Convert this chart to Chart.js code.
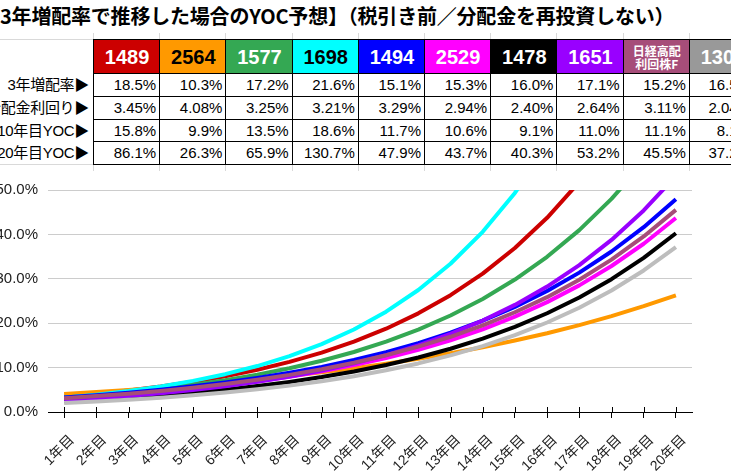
<!DOCTYPE html>
<html lang="ja">
<head>
<meta charset="utf-8">
<script src="https://cdn.jsdelivr.net/npm/chart.js@4.4.1/dist/chart.umd.min.js"></script>
<style>
  html, body { margin: 0; padding: 0; background: #fff; }
  body { width: 731px; height: 472px; overflow: hidden; position: relative;
         font-family: Arial, "Liberation Sans", "Noto Sans CJK JP", sans-serif; }
  #title { position: absolute; left: 0; top: 1px; white-space: nowrap; line-height: 22px; letter-spacing: -0.2px;
           font: bold 20px "Noto Sans CJK JP", sans-serif; color: #000; }
  .cell { position: absolute; box-sizing: border-box; border-left: 1px solid #000;
          border-top: 1px solid #000; white-space: nowrap; }
  .head { display: flex; align-items: center; justify-content: center;
          font: bold 20px Arial, "Liberation Sans", sans-serif; }
  .head.small { font: bold 12px "Noto Sans CJK JP", sans-serif; line-height: 13px; text-align: center; }
  .num { text-align: right; padding-right: 4px; font-size: 15px; line-height: 21px; color: #000; }
  .rowlab { position: absolute; white-space: nowrap; text-align: right; font-size: 15px; letter-spacing: -0.3px;
            line-height: 21px; color: #000; font-family: "Liberation Sans", "Noto Sans CJK JP", sans-serif; }
  .gl { position: absolute; background: #d9d9d9; }
  #chart { position: absolute; left: -6px; top: 171px; }
</style>
</head>
<body>
<div id="title">3年増配率で推移した場合のYOC予想】（税引き前／分配金を再投資しない）</div>
<div id="table"></div>
<canvas id="chart" width="737" height="301"></canvas>
<script>
'use strict';

// categories
let years = ['1年目', '2年目', '3年目', '4年目', '5年目', '6年目', '7年目', '8年目', '9年目', '10年目',
  '11年目', '12年目', '13年目', '14年目', '15年目', '16年目', '17年目', '18年目', '19年目', '20年目'];

// table
let codes = ['1489', '2564', '1577', '1698', '1494', '2529', '1478', '1651', '日経高配\n利回株F', '1306'];
let rowLabels = ['3年増配率▶', '分配金利回り▶', '10年目YOC▶', '20年目YOC▶'];
let growth = ['18.5%', '10.3%', '17.2%', '21.6%', '15.1%', '15.3%', '16.0%', '17.1%', '15.2%', '16.5%'];
let yields = ['3.45%', '4.08%', '3.25%', '3.21%', '3.29%', '2.94%', '2.40%', '2.64%', '3.11%', '2.04%'];
let yoc10 = ['15.8%', '9.9%', '13.5%', '18.6%', '11.7%', '10.6%', '9.1%', '11.0%', '11.1%', '8.1%'];
let yoc20 = ['86.1%', '26.3%', '65.9%', '130.7%', '47.9%', '43.7%', '40.3%', '53.2%', '45.5%', '37.2%'];

// YOC (%) per year
let yoc1489 = [3.45, 4.09, 4.84, 5.73, 6.79, 8.05, 9.53, 11.29, 13.37, 15.84, 18.76, 22.22, 26.32, 31.17, 36.93, 43.74, 51.81, 61.37, 72.69, 86.10];
let yoc2564 = [4.08, 4.50, 4.96, 5.48, 6.04, 6.66, 7.35, 8.10, 8.94, 9.86, 10.88, 12.00, 13.23, 14.59, 16.10, 17.75, 19.58, 21.60, 23.83, 26.28];
let yoc1577 = [3.25, 3.81, 4.46, 5.23, 6.12, 7.17, 8.41, 9.85, 11.54, 13.52, 15.84, 18.56, 21.74, 25.47, 29.84, 34.96, 40.96, 47.99, 56.22, 65.87];
let yoc1698 = [3.21, 3.90, 4.74, 5.76, 7.01, 8.52, 10.35, 12.58, 15.30, 18.59, 22.60, 27.47, 33.39, 40.58, 49.33, 59.96, 72.88, 88.58, 107.67, 130.7];
let yoc1494 = [3.29, 3.79, 4.36, 5.02, 5.78, 6.66, 7.67, 8.83, 10.16, 11.70, 13.47, 15.51, 17.86, 20.57, 23.68, 27.27, 31.39, 36.15, 41.62, 47.92];
let yoc2529 = [2.94, 3.39, 3.91, 4.50, 5.19, 5.98, 6.89, 7.95, 9.16, 10.55, 12.17, 14.02, 16.16, 18.63, 21.47, 24.75, 28.52, 32.88, 37.89, 43.68];
let yoc1478 = [2.40, 2.78, 3.23, 3.75, 4.35, 5.04, 5.85, 6.78, 7.87, 9.13, 10.59, 12.28, 14.25, 16.53, 19.17, 22.24, 25.80, 29.92, 34.71, 40.26];
let yoc1651 = [2.64, 3.09, 3.62, 4.24, 4.97, 5.82, 6.81, 7.98, 9.35, 10.95, 12.82, 15.02, 17.59, 20.60, 24.12, 28.25, 33.09, 38.76, 45.39, 53.16];
let yocNikkei = [3.11, 3.58, 4.13, 4.75, 5.47, 6.30, 7.26, 8.36, 9.63, 11.09, 12.77, 14.71, 16.94, 19.51, 22.47, 25.87, 29.80, 34.32, 39.53, 45.52];
let yoc1306 = [2.04, 2.38, 2.77, 3.23, 3.76, 4.38, 5.10, 5.94, 6.92, 8.06, 9.39, 10.94, 12.75, 14.85, 17.31, 20.16, 23.49, 27.36, 31.88, 37.14];

let yTicks = [0, 10, 20, 30, 40, 50];

let allSeries = [yoc1489, yoc2564, yoc1577, yoc1698, yoc1494, yoc2529, yoc1478, yoc1651, yocNikkei, yoc1306];

// styles
let headBg = ['#cc0000', '#ff9900', '#34a853', '#00ffff', '#0000ff', '#ff00ff', '#000000', '#9900ff', '#a64d79', '#999999'];
let headFg = ['#fff', '#000', '#fff', '#000', '#fff', '#fff', '#fff', '#fff', '#fff', '#fff'];
let lineColors = ['#cc0000', '#ff9900', '#34a853', '#00ffff', '#0000ff', '#ff00ff', '#000000', '#9900ff', '#a64d79', '#bdbdbd'];

// build the table
let tableEl = document.getElementById('table');
let colLeft = 93, colW = 66.2, headTop = 39, headH = 34, rowH = 22.8;

function addDiv(cls, css, text) {
  let d = document.createElement('div');
  d.className = cls;
  Object.assign(d.style, css);
  if (text !== undefined) d.textContent = text;
  tableEl.appendChild(d);
  return d;
}

// faint sheet gridlines
addDiv('gl', {left: '0px', top: headTop + 'px', width: colLeft + 'px', height: '1px'});
addDiv('gl', {left: '0px', top: (headTop + headH + rowH * 4) + 'px', width: colLeft + 'px', height: '1px'});
for (let i = 0; i <= codes.length; i++) {
  let x = Math.round(colLeft + i * colW) + 'px';
  addDiv('gl', {left: x, top: '33px', width: '1px', height: '6px'});
  addDiv('gl', {left: x, top: (headTop + headH + rowH * 4) + 'px', width: '1px', height: '7px'});
}

let rows = [growth, yields, yoc10, yoc20];
for (let i = 0; i < codes.length; i++) {
  let left = colLeft + i * colW;
  let h = addDiv('cell head' + (codes[i].includes('\n') ? ' small' : ''), {
    left: left + 'px', top: headTop + 'px', width: (colW + 1) + 'px', height: (headH + 1) + 'px',
    background: headBg[i], color: headFg[i]
  });
  h.innerHTML = codes[i].split('\n').join('<br>');
  for (let r = 0; r < rows.length; r++) {
    let top = headTop + headH + r * rowH;
    let c = addDiv('cell num', {
      left: left + 'px', top: top + 'px', width: (colW + 1) + 'px', height: (rowH + 1) + 'px'
    }, rows[r][i]);
    if (r === rows.length - 1) c.style.borderBottom = '1px solid #000';
    if (i === codes.length - 1) c.style.borderRight = '1px solid #000';
  }
}
for (let r = 0; r < rowLabels.length; r++) {
  addDiv('rowlab', {right: (731 - colLeft + 4) + 'px', top: (headTop + headH + r * rowH + 1) + 'px'}, rowLabels[r]);
}

// little tick marks poking above the x axis
const tickUp = {
  id: 'tickUp',
  afterDraw(chart) {
    let s = chart.scales.x, c = chart.ctx, b = chart.chartArea.bottom;
    c.save();
    c.strokeStyle = '#000';
    c.lineWidth = 1;
    for (let i = 0; i < s.ticks.length; i++) {
      let x = Math.round(s.getPixelForTick(i)) + 0.5;
      c.beginPath();
      c.moveTo(x, b - 5);
      c.lineTo(x, b);
      c.stroke();
    }
    c.restore();
  }
};

let fam = 'Arial, "Liberation Sans", "Noto Sans CJK JP", sans-serif';
let ctx = document.getElementById('chart').getContext('2d');
let myChart = new Chart(ctx, {
  type: 'line',
  data: {
    labels: years,
    datasets: allSeries.map((d, i) => ({
      label: codes[i].replace('\n', ''),
      data: d,
      borderColor: lineColors[i],
      backgroundColor: lineColors[i],
      borderWidth: 4,
      pointRadius: 0,
      tension: 0,
      fill: false,
      borderCapStyle: 'butt',
      borderJoinStyle: 'round',
      order: allSeries.length - i
    }))
  },
  options: {
    responsive: false,
    animation: false,
    devicePixelRatio: 1,
    layout: {padding: {top: 8, right: 39, left: 0, bottom: 0}},
    plugins: {legend: {display: false}, tooltip: {enabled: false}},
    scales: {
      x: {
        offset: true,
        grid: {display: true, drawOnChartArea: false, offset: false, tickLength: 6, color: '#000'},
        border: {display: true, color: '#000', width: 1},
        ticks: {minRotation: 45, maxRotation: 45, autoSkip: false, padding: 14, labelOffset: 8,
                color: '#222', font: {size: 14, family: fam}},
        afterFit(s) { s.height = 60; }
      },
      y: {
        min: yTicks[0],
        max: yTicks[yTicks.length - 1],
        afterBuildTicks(s) { s.ticks = yTicks.map(v => ({value: v})); },
        ticks: {padding: 10, color: '#222', font: {size: 15, family: fam},
                callback: v => v.toFixed(1) + '%'},
        grid: {color: '#cccccc', drawTicks: false},
        border: {display: false},
        afterFit(s) { s.width = 54; }
      }
    }
  },
  plugins: [tickUp]
});
</script>
</body>
</html>
